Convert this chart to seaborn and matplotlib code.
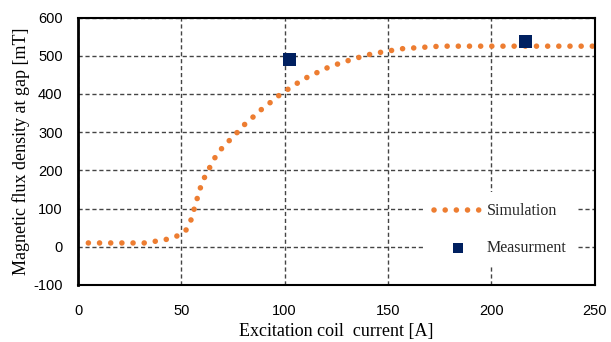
import matplotlib
matplotlib.use("Agg")
import matplotlib.pyplot as plt
import seaborn as sns

# simulation curve
sim_x = [5, 10, 15, 21, 26, 32, 37, 42.5, 47.5,
         52, 54.5, 56, 57.5, 59, 61, 63.5, 66, 69,
         72.5, 76.5, 80, 84, 88, 92.5, 96.5, 101, 105.5, 110,
         115, 120, 125, 130, 135, 140, 145.5, 151, 156, 161.5,
         167, 172, 178, 183, 190, 200, 210, 220, 230, 240, 250]
sim_y = [10, 10, 10, 10, 10, 10, 14, 19, 27,
         41, 67, 95, 123, 151, 179, 205, 231, 254,
         274, 296, 317, 336, 356, 375, 393, 410, 426, 441,
         454, 467, 477, 486, 494, 502, 508, 513, 518, 520,
         522, 524, 525, 525, 525, 525, 525, 525, 525, 525, 525]

# measured points
meas_x = [102.5, 216.5]
meas_y = [490, 538]

x_ticks = [0, 50, 100, 150, 200, 250]
y_ticks = [-100, 0, 100, 200, 300, 400, 500, 600]

sns.set_theme(style="white")
plt.rcParams["font.family"] = ["Liberation Serif", "DejaVu Serif"]
plt.rcParams["axes.unicode_minus"] = False

fig = plt.figure(figsize=(6.11, 3.42), dpi=100)
ax = fig.add_axes([0.1277, 0.1667, 0.8453, 0.7821])

sns.lineplot(x=sim_x, y=sim_y, ax=ax, color="#ED7D31", lw=4,
             linestyle=(0, (0.01, 2.0)), dash_capstyle="round",
             sort=False, errorbar=None, label="Simulation")
sns.scatterplot(x=meas_x, y=meas_y, ax=ax, marker="s", s=90,
                color="#002060", edgecolor="none", zorder=5,
                label="Measurment")

ax.set_xlim(0, 250)
ax.set_ylim(-100, 600)
ax.set_xticks(x_ticks)
ax.set_yticks(y_ticks)
ax.grid(True, color="#444444", lw=1.0, linestyle=(0, (3, 2)))
ax.set_axisbelow(True)

for lab in ax.get_xticklabels() + ax.get_yticklabels():
    lab.set_fontfamily("Liberation Sans")
    lab.set_fontsize(10.5)
    lab.set_color("black")
ax.tick_params(axis="y", length=0, pad=11)
ax.tick_params(axis="x", length=0, pad=14)

for side in ["top", "right", "bottom", "left"]:
    ax.spines[side].set_color("black")
    ax.spines[side].set_linewidth(1.5)
ax.spines["left"].set_linewidth(2)

ax.set_xlabel("Excitation coil  current [A]", fontsize=13, labelpad=3, color="black")
ax.set_ylabel("Magnetic flux density at gap [mT]", fontsize=13, labelpad=2, color="black")

leg = ax.legend(loc="lower right", bbox_to_anchor=(0.968, 0.067),
                borderaxespad=0, frameon=True, facecolor="white",
                edgecolor="none", fancybox=False, framealpha=1,
                fontsize=11.5, handlelength=3, handletextpad=0.3,
                labelspacing=1.3, borderpad=0.7, markerscale=0.75)

fig.savefig("out.png", dpi=100)
